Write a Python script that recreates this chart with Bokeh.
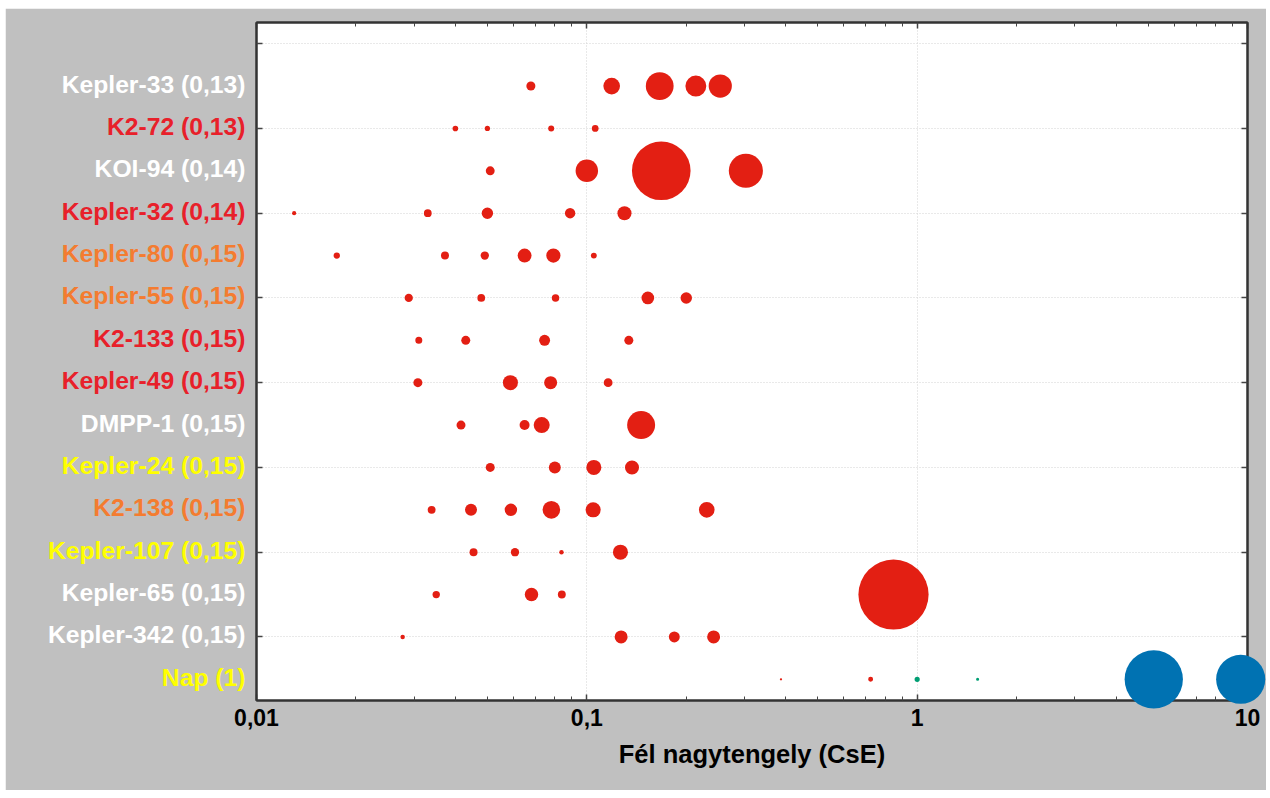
from bokeh.plotting import figure
from bokeh.models import (LogAxis, LinearAxis, FixedTicker, ColumnDataSource,
                          CustomJSTickFormatter)
from bokeh.core.properties import value
from bokeh.embed import file_html
from bokeh.resources import INLINE

# Rows from bottom (0) to top (14)
system_labels = ["Nap (1)", "Kepler-342 (0,15)", "Kepler-65 (0,15)", "Kepler-107 (0,15)",
                 "K2-138 (0,15)", "Kepler-24 (0,15)", "DMPP-1 (0,15)", "Kepler-49 (0,15)",
                 "K2-133 (0,15)", "Kepler-55 (0,15)", "Kepler-80 (0,15)", "Kepler-32 (0,14)",
                 "KOI-94 (0,14)", "K2-72 (0,13)", "Kepler-33 (0,13)"]
label_groups = ["yellow", "white", "white", "yellow", "orange", "yellow", "white", "red",
                "red", "orange", "orange", "red", "white", "red", "white"]

# Planets: row index, semi-major axis (AU), radius (Earth radii), type
planet_row = ([0] * 6 + [1] * 4 + [2] * 4 + [3] * 4 + [4] * 6 + [5] * 4 + [6] * 4 + [7] * 4
              + [8] * 4 + [9] * 5 + [10] * 6 + [11] * 5 + [12] * 4 + [13] * 4 + [14] * 5)
planet_a = [0.387, 0.723, 1.0, 1.524, 5.203, 9.537,          # Nap
            0.0277, 0.127, 0.184, 0.242,                      # Kepler-342
            0.035, 0.068, 0.084, 0.848,                       # Kepler-65
            0.0454, 0.0606, 0.0838, 0.1264,                   # Kepler-107
            0.0339, 0.0446, 0.0589, 0.0781, 0.1045, 0.2307,   # K2-138
            0.051, 0.080, 0.105, 0.137,                       # Kepler-24
            0.0416, 0.0648, 0.073, 0.146,                     # DMPP-1
            0.0308, 0.0587, 0.0777, 0.116,                    # Kepler-49
            0.031, 0.043, 0.0745, 0.134,                      # K2-133
            0.0289, 0.0479, 0.0804, 0.153, 0.20,              # Kepler-55
            0.0175, 0.0372, 0.0491, 0.0648, 0.0792, 0.105,    # Kepler-80
            0.013, 0.033, 0.05, 0.089, 0.13,                  # Kepler-32
            0.051, 0.1, 0.168, 0.303,                         # KOI-94
            0.040, 0.050, 0.078, 0.106,                       # K2-72
            0.0677, 0.1189, 0.1662, 0.2138, 0.2535]           # Kepler-33
planet_r = [0.45, 0.95, 1.0, 0.6, 11.21, 9.45,
            0.86, 2.5, 2.1, 2.5,
            1.42, 2.58, 1.52, 13.5,
            1.54, 1.60, 0.86, 2.90,
            1.51, 2.30, 2.39, 3.39, 2.90, 3.01,
            1.73, 2.3, 2.9, 2.7,
            1.73, 1.92, 3.08, 5.38,
            1.73, 2.9, 2.5, 1.7,
            1.35, 1.73, 2.1, 1.73,
            1.59, 1.49, 1.43, 2.43, 2.20,
            1.21, 1.53, 1.60, 2.67, 2.74, 1.13,
            0.81, 1.5, 2.2, 2.0, 2.7,
            1.71, 4.32, 11.27, 6.56,
            1.08, 1.01, 1.16, 1.29,
            1.74, 3.20, 5.35, 4.02, 4.46]
planet_type = (["inner", "inner", "earth", "earth", "giant", "giant"]
               + ["exo"] * (len(planet_a) - 6))

x_ticks = [0.01, 0.1, 1, 10]
x_minor = [m * 10.0 ** e for e in (-2, -1, 0) for m in range(2, 10)]
y_ticks = [1, 3, 5, 7, 9, 11, 13, 15]

type_colors = {"exo": "#E31F13", "inner": "#E31F13", "earth": "#009E73", "giant": "#0072B2"}
text_colors = {"white": "#FFFFFF", "red": "#E8202A", "orange": "#F47C30", "yellow": "#FFFF00"}
SCALE = 5.2  # px diameter per Earth radius

sizes = [SCALE * r for r in planet_r]
colors = [type_colors[t] for t in planet_type]
small = [i for i, t in enumerate(planet_type) if t != "giant"]
big = [i for i, t in enumerate(planet_type) if t == "giant"]

def subset(idx):
    return ColumnDataSource(dict(a=[planet_a[i] for i in idx], row=[planet_row[i] for i in idx],
                                 size=[sizes[i] for i in idx], color=[colors[i] for i in idx]))

p = figure(width=1261, height=782, x_axis_type="log", x_range=(0.01, 10), y_range=(-0.5, 15.5),
           output_backend="svg", toolbar_location=None,
           background_fill_color="white", border_fill_color="#C0C0C0",
           min_border_left=251, min_border_right=19, min_border_top=14, min_border_bottom=90,
           margin=(8, 0, 0, 5))
p.outline_line_color = "#333333"
p.outline_line_width = 2

p.scatter(x="a", y="row", size="size", color="color", line_color=None, source=subset(small))
p.scatter(x="a", y="row", size="size", color="color", line_color=None, source=subset(big),
          level="overlay")

fmt = CustomJSTickFormatter(code="return tick.toString().replace('.', ',');")
blank = CustomJSTickFormatter(code="return '';")
font = "Liberation Sans"

def style_axis(ax, labels=True):
    ax.axis_line_color = "#333333"
    ax.axis_line_width = 2
    ax.major_tick_in = 6
    ax.major_tick_out = 0
    ax.minor_tick_in = 4
    ax.minor_tick_out = 0
    ax.major_tick_line_color = "#444444"
    ax.minor_tick_line_color = "#444444"
    ax.major_tick_line_width = 1.5
    if not labels:
        ax.formatter = blank
        ax.major_label_text_font_size = "2px"
        ax.major_label_text_color = None
        ax.major_label_standoff = 0

xax = p.xaxis[0]
xax.ticker = FixedTicker(ticks=x_ticks, minor_ticks=x_minor)
style_axis(xax)
xax.formatter = fmt
xax.major_label_text_font = font
xax.major_label_text_font_style = "bold"
xax.major_label_text_font_size = "23px"
xax.major_label_text_color = "black"
xax.major_label_standoff = 8
xax.axis_label = "Fél nagytengely (CsE)"
xax.axis_label_text_font = font
xax.axis_label_text_font_style = "bold"
xax.axis_label_text_font_size = "25.5px"
xax.axis_label_text_color = "black"
xax.axis_label_standoff = 11

top = LogAxis(ticker=FixedTicker(ticks=x_ticks, minor_ticks=x_minor))
style_axis(top, labels=False)
p.add_layout(top, "above")

yax = p.yaxis[0]
yax.ticker = FixedTicker(ticks=y_ticks)
style_axis(yax, labels=False)
yax.minor_tick_in = 0

right = LinearAxis(ticker=FixedTicker(ticks=y_ticks))
style_axis(right, labels=False)
right.minor_tick_in = 0
p.add_layout(right, "right")

p.xgrid.ticker = FixedTicker(ticks=x_ticks)
p.ygrid.ticker = FixedTicker(ticks=y_ticks)
for g in (p.xgrid[0], p.ygrid[0]):
    g.grid_line_color = "#D2D2D2"
    g.grid_line_dash = "1 2"
    g.grid_line_width = 1

label_src = ColumnDataSource(dict(
    x=[0.01] * len(system_labels),
    y=list(range(len(system_labels))),
    text=system_labels,
    color=[text_colors[g] for g in label_groups],
))
p.text(x="x", y="y", text="text", source=label_src, x_offset=-11, y_offset=-2,
       text_align="right", text_baseline="middle", text_font=value(font),
       text_font_style="bold", text_font_size="24.7px", text_color="color", level="overlay")

open("out.html", "w").write(file_html(p, INLINE))
